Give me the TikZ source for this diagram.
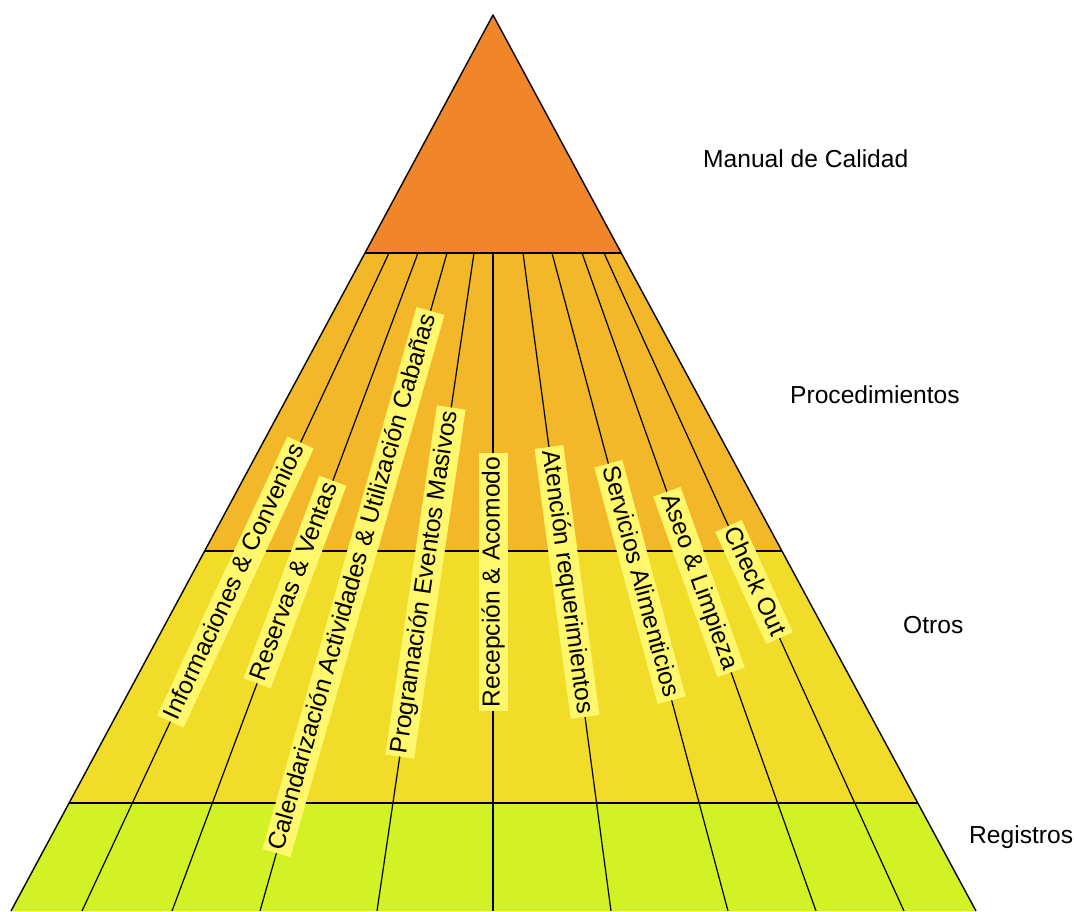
\documentclass[tikz,border=0pt]{standalone}
\usepackage{fontspec}
\setmainfont{Liberation Sans}
\usetikzlibrary{calc}
\definecolor{cManual}{HTML}{F08529}
\definecolor{cProc}{HTML}{F2B829}
\definecolor{cOtros}{HTML}{F2DC2A}
\definecolor{cReg}{HTML}{D2F225}
\definecolor{cLab}{HTML}{FFF86C}
\begin{document}
\begin{tikzpicture}[x=1pt,y=-1pt,
  font=\fontsize{24.6}{29}\selectfont,
  edge/.style={line width=1.4pt,line join=round},
  band/.style={line width=1.8pt},
  divider/.style={line width=1.2pt},
  lab/.style={fill=cLab,inner xsep=3.5pt,inner ysep=2pt,text height=19pt,text depth=6pt},
  side/.style={anchor=base west,inner sep=0pt}]
\useasboundingbox (0,0) rectangle (1074,911);
% outline points
\coordinate (apex) at (493,15);
\coordinate (L1) at (365,253);   \coordinate (R1) at (621.3,253);
\coordinate (L2) at (204.6,551); \coordinate (R2) at (781.9,551);
\coordinate (L3) at (69,803);    \coordinate (R3) at (917.7,803);
\coordinate (L4) at (11,911);    \coordinate (R4) at (976,911);
% bands
\fill[cManual] (apex) -- (L1) -- (R1) -- cycle;
\fill[cProc] (L1) -- (L2) -- (R2) -- (R1) -- cycle;
\fill[cOtros] (L2) -- (L3) -- (R3) -- (R2) -- cycle;
\fill[cReg] (L3) -- (L4) -- (R4) -- (R3) -- cycle;
% divider ends
\foreach \i/\xt/\xb in {1/389/82,2/418/172,3/447/260,4/474/377,5/493/493,6/523/611,7/552/728,8/582/816,9/604/904}{
  \coordinate (t\i) at (\xt,253);
  \coordinate (b\i) at (\xb,911);
}
\foreach \i in {1,...,9}{\draw[divider] (t\i) -- (b\i);}
% band boundaries and edges
\draw[band] (L1) -- (R1);
\draw[band] (L2) -- (R2);
\draw[band] (L3) -- (R3);
\draw[edge] (L4) -- (apex) -- (R4);
% labels on dividers
\path (t1) -- (b1) node[lab,sloped,pos=0.5] (n1) {Informaciones \& Convenios};
\path (t2) -- (b2) node[lab,sloped,pos=0.5] (n2) {Reservas \& Ventas};
\path (t3) -- (b3) node[lab,sloped,pos=0.5] (n3) {Calendarización Actividades \& Utilización Cabañas};
\path (t4) -- (b4) node[lab,sloped,pos=0.5] (n4) {Programación Eventos Masivos};
\path (b5) -- (t5) node[lab,sloped,pos=0.5] (n5) {Recepción \& Acomodo};
\path (t6) -- (b6) node[lab,sloped,pos=0.5] (n6) {Atención requerimientos};
\path (t7) -- (b7) node[lab,sloped,pos=0.5] (n7) {Servicios Alimenticios};
\path (t8) -- (b8) node[lab,sloped,pos=0.5] (n8) {Aseo \& Limpieza};
\path (t9) -- (b9) node[lab,sloped,pos=0.5] (n9) {Check Out};
% side texts
\node[side] (manual) at (703,167) {Manual de Calidad};
\node[side] (proc) at (790,403) {Procedimientos};
\node[side] (otros) at (903,633) {Otros};
\node[side] (reg) at (969,843) {Registros};
\end{tikzpicture}
\end{document}
